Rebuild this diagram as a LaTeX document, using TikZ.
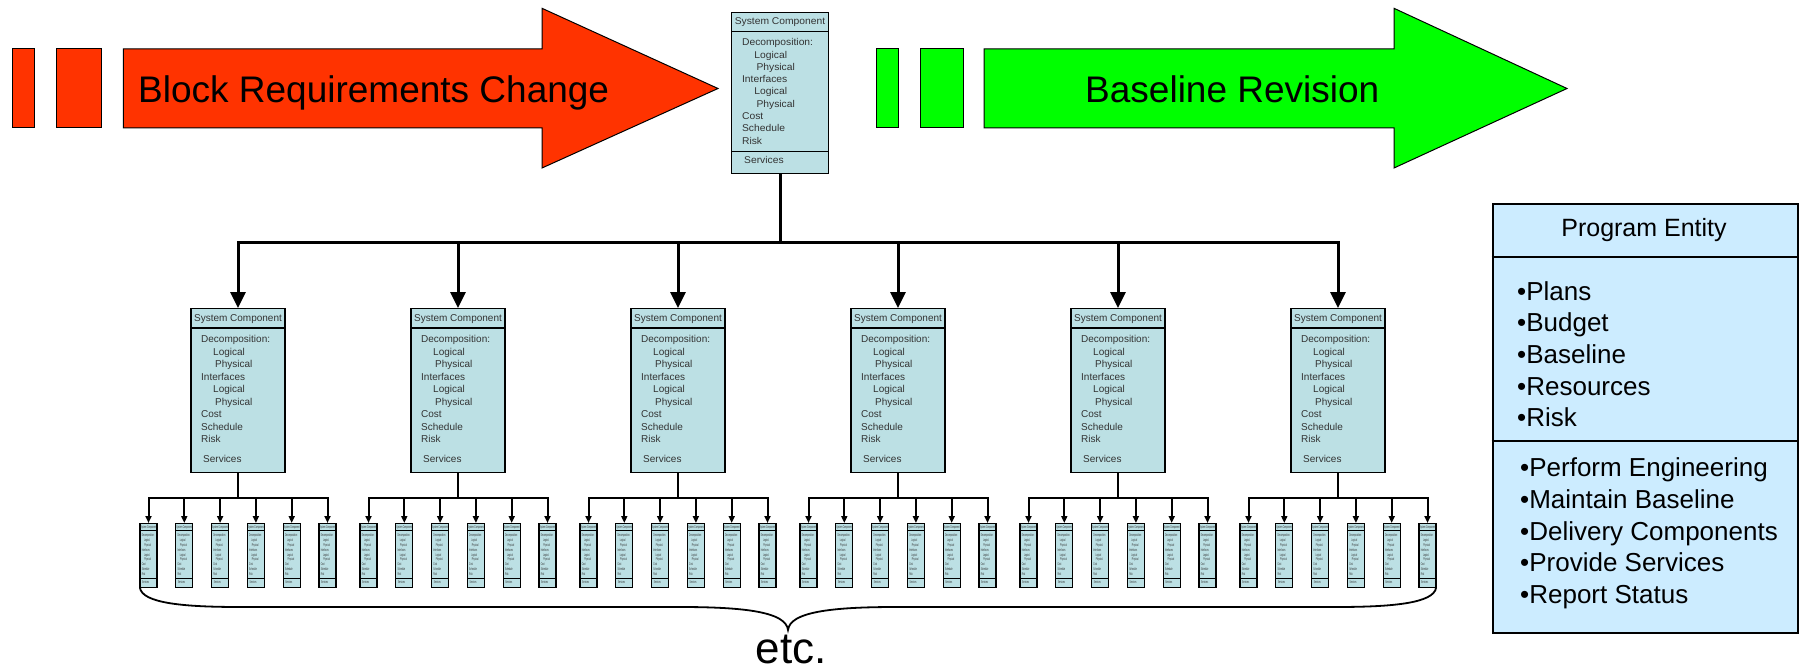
\documentclass[tikz,border=0pt]{standalone}
\usepackage{fontspec}
\setmainfont{Liberation Sans}
\usetikzlibrary{arrows.meta,calc}

\definecolor{redarrow}{HTML}{FF3300}
\definecolor{greenarrow}{HTML}{00FF00}
\definecolor{compfill}{HTML}{BCE0E4}
\definecolor{entityfill}{HTML}{CCECFF}

\newcommand\compfont{\fontsize{10}{12}\selectfont}

% One "System Component" card, drawn with its top centre at the pic origin
\newcommand\compbody{%
  \node[compbox] (-box) at (0,0) {};
  \draw[compline] (-47,20) -- (47,20);
  \node[ctext, anchor=center] (-head) at (0,11) {System Component};
  \node[ctext] (-dec)   at (-37,32)   {Decomposition:};
  \node[ctext] (-dlog)  at (-25,44.5) {Logical};
  \node[ctext] (-dphy)  at (-23,57)   {Physical};
  \node[ctext] (-int)   at (-37,69.5) {Interfaces};
  \node[ctext] (-ilog)  at (-25,82)   {Logical};
  \node[ctext] (-iphy)  at (-23,94.5) {Physical};
  \node[ctext] (-cost)  at (-37,107)  {Cost};
  \node[ctext] (-sched) at (-37,119.5){Schedule};
  \node[ctext] (-risk)  at (-37,132)  {Risk};
  \node[ctext] (-serv)  at (-35,152)  {Services};
}

\tikzset{
  compbox/.style={draw, fill=compfill, line width=1.3pt, minimum width=94pt,
    minimum height=164pt, anchor=north, inner sep=0pt},
  compline/.style={line width=1.3pt},
  ctext/.style={anchor=mid west, inner sep=0pt, font=\compfont, text=black!80},
  syscomp/.pic={\compbody},
  syscompfull/.pic={\compbody \draw[compline] (-47,142) -- (47,142);},
  bigarr/.style={line width=3pt, -{Triangle[length=16pt,width=15pt]}},
  smallarr/.style={line width=2pt, -{Triangle[length=7pt,width=6pt]}},
  blockarrow/.style={draw=black, line width=1pt, line join=miter},
  bigtext/.style={inner sep=0pt, font=\fontsize{37}{44}\selectfont},
  entitytext/.style={inner sep=0pt, anchor=base west, font=\fontsize{26}{30}\selectfont},
}

\begin{document}
\begin{tikzpicture}[x=1pt, y=-1pt]
  \useasboundingbox (0,0) rectangle (1799,671);

  % red block arrow
  \filldraw[blockarrow, fill=redarrow] (12.4,49) rectangle (34.5,128);
  \filldraw[blockarrow, fill=redarrow] (56.6,49) rectangle (101.3,128);
  \filldraw[blockarrow, fill=redarrow] (123.4,49) -- (542,49) -- (542,8.3)
    -- (718,88.5) -- (542,168) -- (542,128) -- (123.4,128) -- cycle;
  \node[bigtext, anchor=base west] (brc) at (138,103) {Block Requirements Change};

  % green block arrow
  \filldraw[blockarrow, fill=greenarrow] (876,49) rectangle (898,128);
  \filldraw[blockarrow, fill=greenarrow] (920,49) rectangle (963,128);
  \filldraw[blockarrow, fill=greenarrow] (984,49) -- (1394,49) -- (1394,8.3)
    -- (1567,88.5) -- (1394,168) -- (1394,128) -- (984,128) -- cycle;
  \node[bigtext, anchor=base west] (blr) at (1085,103) {Baseline Revision};

  % top-level component
  \pic[xscale=1.03, yscale=0.984, transform shape] (top) at (780,11.7) {syscompfull};

  % second level
  \foreach \i/\x in {1/238,2/458,3/678,4/898,5/1118,6/1338} {
    \pic (m\i) at (\x,308) {syscomp};
    \foreach \k in {1,...,6} {
      \pic[xscale=0.181, yscale=0.39, transform shape] (s\i\k)
        at ({\x+(\k-3.5)*35.8},523) {syscompfull};
    }
  }

  % connectors
  \foreach \i in {1,...,6} {
    \draw[bigarr] (top-box.south) -- ++(0,68) -| (m\i-box.north);
    \foreach \k in {1,...,6} {
      \draw[smallarr] (m\i-box.south) -- ++(0,25) -| (s\i\k-box.north);
    }
  }

  % brace under the lowest level
  \coordinate (braceL) at (s11-box.south west);
  \coordinate (braceR) at (s66-box.south east);
  \coordinate (braceTip) at (788,630);
  \draw[line width=1.8pt] (braceL) .. controls ($(braceL)+(2,16)$) and (185,607) .. (240,607)
    -- (680,607) .. controls (745,607) and (786,612) .. (braceTip)
    .. controls (790,612) and (831,607) .. (896,607) -- (1336,607)
    .. controls (1391,607) and ($(braceR)+(-2,16)$) .. (braceR);
  \node[inner sep=0pt, anchor=base, font=\fontsize{44}{50}\selectfont] (etc) at (791,663) {etc.};

  % program entity card
  \node[draw, line width=2pt, fill=entityfill, minimum width=305.3pt, minimum height=428.7pt,
    anchor=north west, inner sep=0pt] (entity) at (1491.7,203.3) {};
  \draw[line width=2pt] (entity.west |- 0,256.7) -- (entity.east |- 0,256.7);
  \draw[line width=2pt] (entity.west |- 0,441) -- (entity.east |- 0,441);
  \node[inner sep=0pt, anchor=base, font=\fontsize{25}{30}\selectfont] (etitle) at (1644,236.7) {Program Entity};
  \foreach \t [count=\j from 0] in {Plans,Budget,Baseline,Resources,Risk} {
    \node[entitytext] (ea\j) at (1517,300+31.7*\j) {•\t};
  }
  \foreach \t [count=\j from 0] in {Perform Engineering,Maintain Baseline,Delivery Components,Provide Services,Report Status} {
    \node[entitytext] (eb\j) at (1520,476.7+31.65*\j) {•\t};
  }
\end{tikzpicture}
\end{document}
